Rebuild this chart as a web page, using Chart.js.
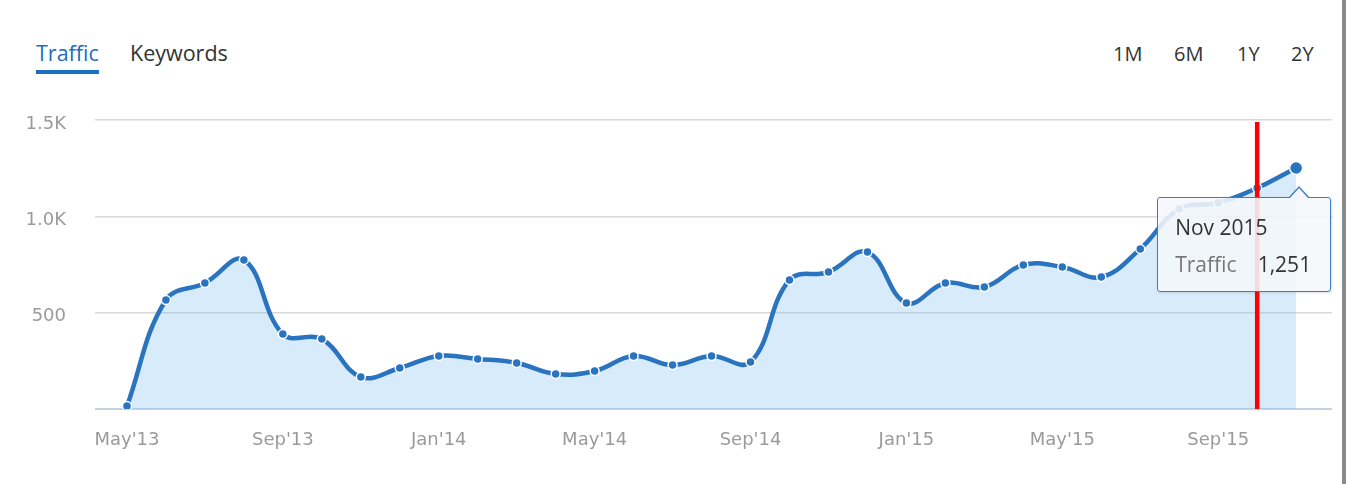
<!DOCTYPE html>
<html>
<head>
<meta charset="utf-8">
<script src="https://cdn.jsdelivr.net/npm/chart.js@4"></script>
<style>
  html, body { margin: 0; padding: 0; background: #fff; }
  #wrap { position: relative; width: 1346px; height: 484px; overflow: hidden; font-family: "Open Sans", sans-serif; }
  #chart { position: absolute; left: 0; top: 0; }
  .tab { position: absolute; top: 39px; font-size: 21.5px; line-height: 28px; color: #333; }
  .tab.active { color: #1b6ec0; }
  .tab.active:after { content: ""; position: absolute; left: 0; right: 0; top: 31px; height: 4px; background: #1b70c1; }
  .rng { position: absolute; top: 40px; font-size: 20px; line-height: 28px; color: #333; }
  #edge { position: absolute; left: 1342px; top: 0; width: 4px; height: 484px; background: #8a8a8a; }
  #tip { position: absolute; width: 172px; height: 93px; border: 1.5px solid #3b7dc4; border-radius: 3px;
         background: rgba(245,247,250,0.88); box-shadow: 1px 1px 3px rgba(0,0,0,0.12); display: none; }
  #tip .caret { position: absolute; top: -12px; width: 0; height: 0;
         border-left: 11px solid transparent; border-right: 11px solid transparent; border-bottom: 12px solid #3b7dc4; }
  #tip .caret:after { content: ""; position: absolute; left: -9px; top: 2.5px; width: 0; height: 0;
         border-left: 9px solid transparent; border-right: 9px solid transparent; border-bottom: 10px solid #f4f6f9; }
  #tip .ttl { position: absolute; left: 17px; top: 15px; font-size: 21px; line-height: 28px; color: #333; }
  #tip .lbl { position: absolute; left: 17px; top: 52px; font-size: 21px; line-height: 28px; color: #777; }
  #tip .val { position: absolute; right: 19px; top: 52px; font-size: 21px; line-height: 28px; color: #333; }
</style>
</head>
<body>
<div id="wrap">
  <div class="tab active" style="left:36px">Traffic</div>
  <div class="tab" style="left:130px">Keywords</div>
  <div class="rng" style="left:1113px">1M</div>
  <div class="rng" style="left:1174px">6M</div>
  <div class="rng" style="left:1237px">1Y</div>
  <div class="rng" style="left:1291px">2Y</div>
  <canvas id="chart" width="1340" height="484"></canvas>
  <div id="tip">
    <div class="caret"></div>
    <div class="ttl"></div>
    <div class="lbl"></div>
    <div class="val"></div>
  </div>
  <div id="edge"></div>
</div>
<script>
// monthly organic traffic, May 2013 .. Nov 2015
var months = [
  "May'13", "Jun'13", "Jul'13", "Aug'13", "Sep'13", "Oct'13", "Nov'13", "Dec'13",
  "Jan'14", "Feb'14", "Mar'14", "Apr'14", "May'14", "Jun'14", "Jul'14", "Aug'14",
  "Sep'14", "Oct'14", "Nov'14", "Dec'14", "Jan'15", "Feb'15", "Mar'15", "Apr'15",
  "May'15", "Jun'15", "Jul'15", "Aug'15", "Sep'15", "Oct'15", "Nov'15"
];
var traffic = [
  15, 566, 654, 774, 389, 363, 166, 213,
  275, 260, 239, 182, 197, 275, 228, 275,
  244, 670, 711, 815, 550, 654, 633, 748,
  737, 685, 831, 1038, 1070, 1147, 1251
];
var tickMonths = [0, 4, 8, 12, 16, 20, 24, 28];
var yTicks = [0, 500, 1000, 1500];
var yTickLabels = ["", "500", "1.0K", "1.5K"];
var markerMonth = 29;          // red marker line (Oct'15)
var tooltipMonth = 30;         // hovered point
var tooltipTitle = "Nov 2015";
var seriesName = "Traffic";

var blue = "#2a74bf";
var axisFont = { family: '"DejaVu Sans", sans-serif', size: 18 };

var points = traffic.map(function (v, i) { return { x: i, y: v }; });

var markerPlugin = {
  id: "marker",
  afterDatasetsDraw: function (chart) {
    var ctx = chart.ctx;
    var area = chart.chartArea;
    var x = chart.scales.x.getPixelForValue(markerMonth);
    ctx.save();
    ctx.strokeStyle = "#ff0000";
    ctx.lineWidth = 4.5;
    ctx.beginPath();
    ctx.moveTo(x, area.top + 2);
    ctx.lineTo(x, area.bottom);
    ctx.stroke();
    ctx.restore();
  },
  afterDraw: function (chart) {
    var pt = chart.getDatasetMeta(0).data[tooltipMonth];
    var tip = document.getElementById("tip");
    tip.querySelector(".ttl").textContent = tooltipTitle;
    tip.querySelector(".lbl").textContent = seriesName;
    tip.querySelector(".val").textContent = traffic[tooltipMonth].toLocaleString("en-US");
    var left = pt.x + 35 - 174;
    var top = pt.y + 29;
    tip.style.left = left + "px";
    tip.style.top = top + "px";
    tip.querySelector(".caret").style.left = (pt.x + 3 - left - 11 - 1.5) + "px";
    tip.style.display = "block";
  }
};

new Chart(document.getElementById("chart"), {
  type: "line",
  data: {
    datasets: [{
      label: seriesName,
      data: points,
      borderColor: blue,
      borderWidth: 4.5,
      backgroundColor: "rgba(124,188,243,0.3)",
      fill: "origin",
      tension: 0.4,
      pointBackgroundColor: blue,
      pointBorderColor: "#ffffff",
      pointBorderWidth: 1.5,
      pointRadius: function (c) { return c.dataIndex === tooltipMonth ? 6.5 : 4.5; }
    }]
  },
  plugins: [markerPlugin],
  options: {
    responsive: false,
    animation: false,
    layout: { padding: { top: 120, right: 6, left: 0, bottom: 0 } },
    plugins: {
      legend: { display: false },
      tooltip: { enabled: false }
    },
    scales: {
      x: {
        type: "linear",
        min: -0.82,
        max: 30.92,
        afterBuildTicks: function (scale) {
          scale.ticks = tickMonths.map(function (m) { return { value: m }; });
        },
        afterFit: function (scale) { scale.height = 75; },
        grid: { display: false },
        border: { display: false },
        ticks: {
          autoSkip: false,
          maxRotation: 0,
          padding: 13,
          color: "#9a9a9a",
          font: axisFont,
          callback: function (value) { return months[value]; }
        }
      },
      y: {
        min: 0,
        max: 1500,
        afterBuildTicks: function (scale) {
          scale.ticks = yTicks.map(function (v) { return { value: v }; });
        },
        afterFit: function (scale) { scale.width = 95; },
        border: { display: false },
        grid: {
          drawTicks: false,
          lineWidth: function (c) { return c.tick && c.tick.value === 0 ? 2 : 1.5; },
          color: function (c) { return c.tick && c.tick.value === 0 ? "#c3d3e2" : "#d8d8d8"; }
        },
        ticks: {
          padding: 29,
          labelOffset: 4,
          color: "#9a9a9a",
          font: axisFont,
          callback: function (value) { return yTickLabels[yTicks.indexOf(value)]; }
        }
      }
    }
  }
});
</script>
</body>
</html>
